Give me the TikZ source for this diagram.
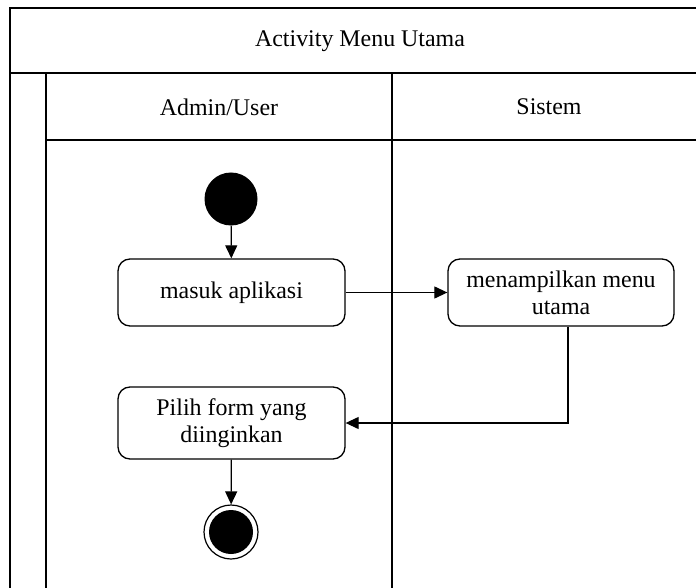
\documentclass[tikz,border=0pt]{standalone}
\usepackage{fontspec}
\setmainfont{Liberation Serif}
\usetikzlibrary{arrows.meta}
\begin{document}
\begin{tikzpicture}[x=1bp,y=-1bp,
  every node/.style={font=\fontsize{24}{27}\selectfont},
  lane/.style={line width=1.6bp,black},
  act/.style={draw,line width=1.3bp,rounded corners=12bp,align=center,inner sep=0pt},
  flow/.style={line width=1.2bp,-{Triangle[length=13bp,width=12bp]}}]
\useasboundingbox (0,0) rectangle (696,588);
% swimlane frame
\draw[lane] (10,588) -- (10,8) -- (696,8);
\draw[lane] (10,73) -- (696,73);
\draw[lane] (46,588) -- (46,73);
\draw[lane] (392,588) -- (392,73);
\draw[lane] (46,140) -- (696,140);
\node (title) at (360,41) {Activity Menu Utama};
\node (h1) at (219,107) {Admin/User};
\node (h2) at (549,107) {Sistem};
% activities
\node[circle,fill=black,minimum size=53bp,inner sep=0pt] (start) at (231,199) {};
\node[act,minimum width=227bp,minimum height=67bp] (masuk) at (231.5,292.5) {masuk aplikasi};
\node[act,minimum width=226bp,minimum height=67bp] (menu) at (561,292.5) {menampilkan menu\\utama};
\node[act,minimum width=227bp,minimum height=72bp] (pilih) at (231.5,423) {Pilih form yang\\diinginkan};
\node[circle,draw,line width=1.2bp,fill=white,minimum size=54bp,inner sep=0pt] (end) at (231,532) {};
\node[circle,fill=black,minimum size=44bp,inner sep=0pt] (endin) at (end) {};
% flows
\draw[flow] (start) -- (masuk);
\draw[flow] (masuk) -- (menu);
\draw[flow] ([xshift=7bp]menu.south) |- (pilih.east);
\draw[flow] (pilih) -- (end);
\end{tikzpicture}
\end{document}
